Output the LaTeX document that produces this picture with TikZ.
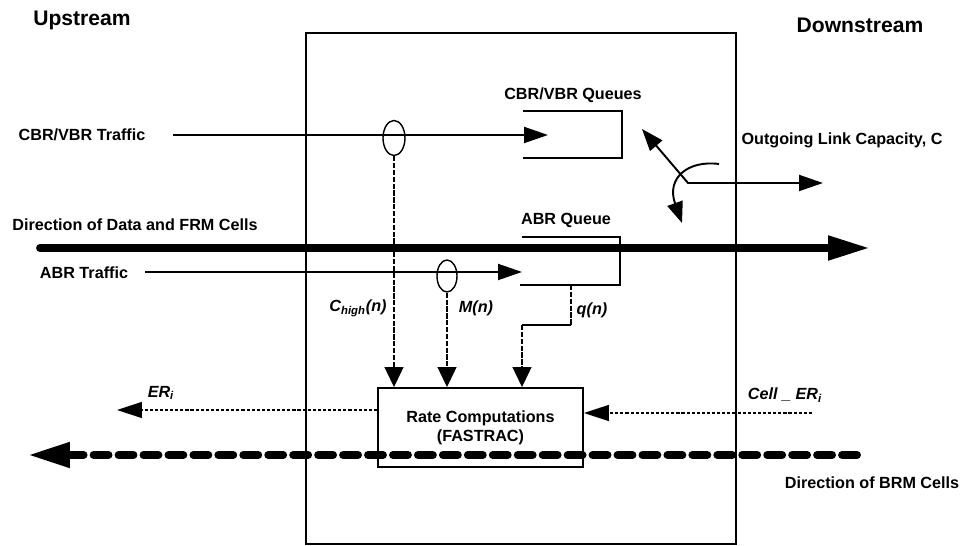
\documentclass[tikz,border=0pt]{standalone}
\usepackage{fontspec}
\setmainfont{Liberation Sans}
\usetikzlibrary{arrows.meta,shapes.geometric}

\begin{document}
\begin{tikzpicture}[x=0.02cm,y=-0.02cm,>=Latex,
  font=\bfseries\fontsize{9.2}{11}\selectfont,
  lbl/.style={inner sep=0pt},
  head/.style={font=\bfseries\fontsize{12}{14}\selectfont, inner sep=0pt},
  frame/.style={line width=1.1pt},
  queue/.style={line width=1.1pt},
  traffic/.style={line width=1.1pt, -{Triangle[length=0.48cm,width=0.32cm]}},
  signal/.style={line width=0.7pt, dash pattern=on 3pt off 0.9pt},
  sigarrow/.style={signal, -{Triangle[length=0.4cm,width=0.38cm]}},
  erarrow/.style={line width=0.8pt, dash pattern=on 1.8pt off 1.1pt, -{Triangle[length=0.5cm,width=0.32cm]}},
  bigflow/.style={line width=4.5pt, line cap=round, -{Triangle[length=0.84cm,width=0.46cm]}},
  brmflow/.style={line width=4.5pt, line cap=round, dash pattern=on 8.5pt off 5.7pt, -{Triangle[length=0.84cm,width=0.48cm]}},
  tap/.style={draw, ellipse, line width=0.8pt, inner sep=0pt}]
\useasboundingbox (0,0) rectangle (961,546);

% switch box
\draw[frame] (306,33) rectangle (736,544);
\node[head] (upstream) at (82,20) {Upstream};
\node[head] (downstream) at (860,25) {Downstream};

% queues
\draw[queue] (523,111) -| (622,158) -- (523,158);
\draw[queue] (522,237) -| (620,285) -- (520,285);
\node[lbl] (cbrqtxt) at (573,95) {CBR/VBR Queues};
\node[lbl] (abrqtxt) at (566,220) {ABR Queue};

% rate computation block
\node[draw, frame, minimum width=4.1cm, minimum height=1.58cm, align=center] (rate) at (480.5,427.5) {Rate Computations\\(FASTRAC)};

% incoming traffic
\node[lbl] (cbrtxt) at (82,135) {CBR/VBR Traffic};
\node[lbl] (abrtxt) at (84,273) {ABR Traffic};
\coordinate (cbrsrc) at (173,135);
\coordinate (cbrin) at (548,135);
\coordinate (abrsrc) at (145,272);
\coordinate (abrin) at (522,272);
\draw[traffic] (cbrsrc) -- (cbrin);
\draw[traffic] (abrsrc) -- (abrin);
\node[tap, minimum width=0.44cm, minimum height=0.7cm] (tap1) at (394,138) {};
\node[tap, minimum width=0.4cm, minimum height=0.64cm] (tap2) at (447,276) {};

% measurements into the block
\draw[sigarrow] (tap1.south) -- (tap1.south |- rate.north);
\draw[sigarrow] (tap2.south) -- (tap2.south |- rate.north);
\coordinate (qa) at (571,285);
\coordinate (qb) at (571,325);
\coordinate (qc) at (522,325);
\draw[signal] (qa) -- (qb);
\draw[line width=0.8pt] (qb) -- (qc);
\draw[sigarrow] (qc) -- (qc |- rate.north);
\node[lbl] (chigh) at (358,308) {\itshape C\textsubscript{high}(n)};
\node[lbl] (mn) at (476,308) {\itshape M(n)};
\node[lbl] (qn) at (592,310) {\itshape q(n)};

% outgoing link
\coordinate (swa) at (642,129);
\coordinate (swb) at (688,183);
\coordinate (outtip) at (823,183);
\draw[line width=1.1pt, {Triangle[length=0.44cm,width=0.32cm]}-{Triangle[length=0.48cm,width=0.32cm]}] (swa) -- (swb) -- (outtip);
\draw[line width=1.1pt, -{Triangle[length=0.42cm,width=0.32cm]}] (719,164) .. controls (688,160) and (666,178) .. (682,223);
\node[lbl] (outtxt) at (842,140) {Outgoing Link Capacity, C};

% data and FRM cells
\node[lbl] (datatxt) at (135,225) {Direction of Data and FRM Cells};
\coordinate (datasrc) at (40,248);
\coordinate (datatip) at (870,248);
\draw[bigflow] (datasrc) -- (datatip);

% explicit rates
\coordinate (ertip) at (117,410);
\coordinate (cellsrc) at (812,413);
\draw[erarrow] (rate.west |- ertip) -- (ertip);
\draw[erarrow] (cellsrc) -- (rate.east |- cellsrc);
\node[lbl] (ertxt) at (161,393) {\itshape ER\textsubscript{i}};
\node[lbl] (celltxt) at (785,395) {\itshape Cell \_ ER\textsubscript{i}};

% backward RM cells
\coordinate (brmsrc) at (857,455);
\coordinate (brmtip) at (28,455);
\draw[brmflow] (brmsrc) -- (brmtip);
\node[lbl] (brmtxt) at (872,483) {Direction of BRM Cells};
\end{tikzpicture}
\end{document}
